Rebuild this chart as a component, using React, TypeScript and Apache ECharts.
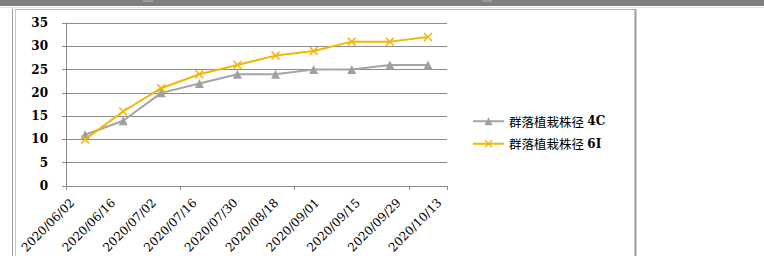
import React, { useEffect, useRef } from "react";
import * as echarts from "echarts";

const categories = [
  "2020/06/02", "2020/06/16", "2020/07/02", "2020/07/16", "2020/07/30",
  "2020/08/18", "2020/09/01", "2020/09/15", "2020/09/29", "2020/10/13",
];
const series4C = [11, 14, 20, 22, 24, 24, 25, 25, 26, 26];
const series6I = [10, 16, 21, 24, 26, 28, 29, 31, 31, 32];
const name4C = "群落植栽株径 4C";
const name6I = "群落植栽株径 6I";
const yTicks = { min: 0, max: 35, interval: 5 };

const X_SYMBOL =
  "path://M0,1.2L1.2,0L5,3.8L8.8,0L10,1.2L6.2,5L10,8.8L8.8,10L5,6.2L1.2,10L0,8.8L3.8,5Z";

export default function App() {
  const ref = useRef<HTMLDivElement>(null);
  useEffect(() => {
    if (!ref.current) return;
    const chart = echarts.init(ref.current, null, { renderer: "svg" });
    const serif = "DejaVu Serif";
    chart.setOption({
      animation: false,
      backgroundColor: "#ffffff",
      grid: [
        { left: 66, top: 23, width: 381, height: 163, containLabel: false },
        { left: 52, top: 23, width: 408, height: 163, containLabel: false },
      ],
      xAxis: [
        {
          type: "category",
          gridIndex: 0,
          data: categories,
          boundaryGap: true,
          axisLine: { lineStyle: { color: "#8c8c8c", width: 1 } },
          axisTick: { show: true, length: 4, lineStyle: { color: "#8c8c8c" } },
          axisLabel: { show: false },
        },
        {
          type: "category",
          gridIndex: 1,
          data: categories,
          boundaryGap: true,
          axisLine: { show: false },
          axisTick: { show: false },
          axisLabel: {
            rotate: 45,
            interval: 0,
            margin: 20,
            color: "#000",
            fontFamily: serif,
            fontSize: 12,
          },
        },
      ],
      yAxis: [
        {
          type: "value",
          gridIndex: 0,
          min: yTicks.min,
          max: yTicks.max,
          interval: yTicks.interval,
          axisLine: { show: true, lineStyle: { color: "#8c8c8c", width: 1 } },
          axisTick: { show: true, length: 4, lineStyle: { color: "#8c8c8c" } },
          splitLine: { show: true, lineStyle: { color: "#8c8c8c", width: 1 } },
          axisLabel: {
            margin: 18,
            color: "#000",
            fontFamily: serif,
            fontWeight: "bold",
            fontSize: 12,
          },
        },
        {
          type: "value",
          gridIndex: 1,
          show: false,
          min: 0,
          max: 35,
          interval: 5,
        },
      ],
      legend: {
        orient: "vertical",
        left: 467,
        top: 110,
        itemWidth: 31,
        itemHeight: 10,
        itemGap: 10,
        data: [name4C, name6I],
        formatter: (n: string) => {
          const i = n.lastIndexOf(" ");
          return "{a|" + n.slice(0, i) + "} {b|" + n.slice(i + 1) + "}";
        },
        textStyle: {
          rich: {
            a: { fontFamily: "Noto Sans CJK SC", fontSize: 12.5, color: "#000" },
            b: { fontFamily: serif, fontSize: 12, fontWeight: "bold", color: "#000" },
          },
        },
      },
      series: [
        {
          name: name4C,
          type: "line",
          xAxisIndex: 0,
          yAxisIndex: 0,
          data: series4C,
          color: "#a5a5a5",
          lineStyle: { width: 2, color: "#a5a5a5" },
          symbol: "triangle",
          symbolSize: 9,
          itemStyle: { color: "#a0a0a0" },
        },
        {
          name: name6I,
          type: "line",
          xAxisIndex: 0,
          yAxisIndex: 0,
          data: series6I,
          color: "#f2b705",
          lineStyle: { width: 2, color: "#f2b705" },
          symbol: X_SYMBOL,
          symbolSize: 9,
          itemStyle: { color: "#f2b705" },
        },
      ],
      graphic: [
        { type: "rect", shape: { x: 0, y: 0, width: 764, height: 6 }, style: { fill: "#7f7f7f" } },
        { type: "rect", shape: { x: 143, y: 0, width: 10, height: 2 }, style: { fill: "#9a9a9a" } },
        { type: "rect", shape: { x: 482, y: 0, width: 10, height: 2 }, style: { fill: "#9a9a9a" } },
        { type: "line", shape: { x1: 0, y1: 7.5, x2: 764, y2: 7.5 }, style: { stroke: "#e4e4e4", lineWidth: 1 } },
        { type: "line", shape: { x1: 12.5, y1: 9, x2: 12.5, y2: 256 }, style: { stroke: "#9a9a9a", lineWidth: 1 } },
        { type: "line", shape: { x1: 15.5, y1: 9, x2: 15.5, y2: 256 }, style: { stroke: "#c8c8c8", lineWidth: 1 } },
        { type: "line", shape: { x1: 15.5, y1: 9.5, x2: 636, y2: 9.5 }, style: { stroke: "#b4b4b4", lineWidth: 1 } },
        { type: "line", shape: { x1: 635.5, y1: 9, x2: 635.5, y2: 256 }, style: { stroke: "#9e9e9e", lineWidth: 2 } },
      ],
    });
    return () => chart.dispose();
  }, []);
  return (
    <div
      ref={ref}
      style={{ position: "absolute", left: 0, top: 0, width: 764, height: 256, background: "#fff" }}
    />
  );
}
